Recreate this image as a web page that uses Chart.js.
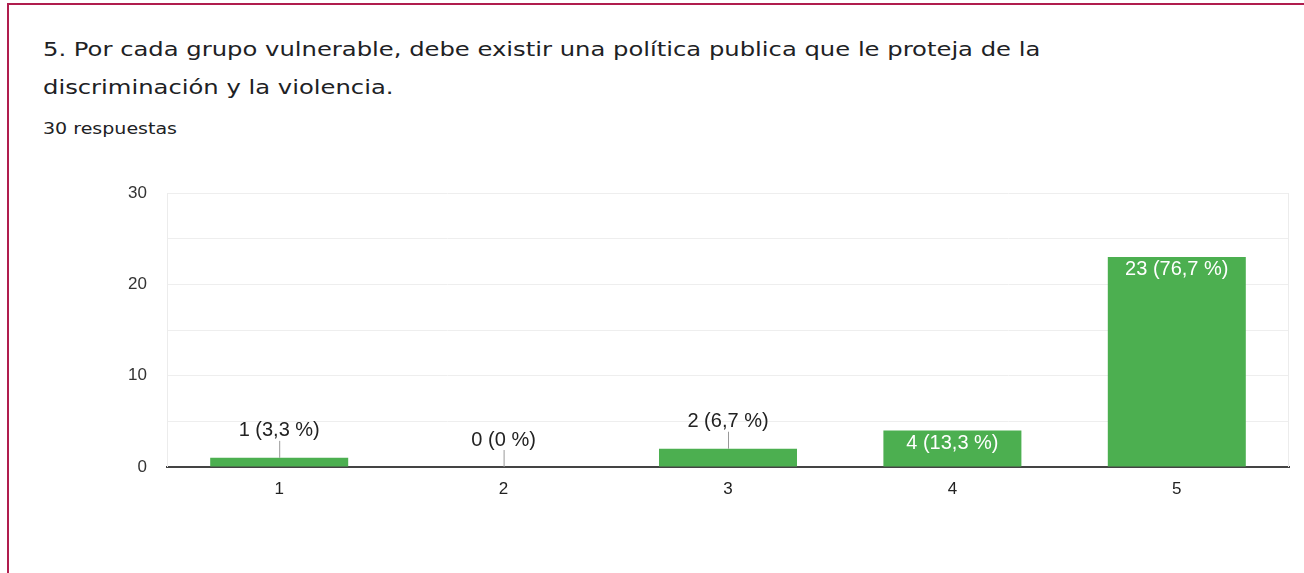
<!DOCTYPE html>
<html lang="es">
<head>
    <meta charset="UTF-8">
    <title>Grupo vulnerable - política pública</title>
    <script src="https://cdn.jsdelivr.net/npm/chart.js"></script>
    <style>
        html, body { margin: 0; padding: 0; background: #fff; }
        .frame {
            position: absolute; left: 7px; top: 3px; width: 1310px; height: 600px;
            border-left: 2px solid #b01d4e; border-top: 2px solid #b01d4e;
        }
        .titulo {
            position: absolute; left: 43px; top: 30px; margin: 0;
            font-family: "DejaVu Sans", sans-serif; font-size: 20px; font-weight: normal;
            line-height: 38px; color: #202124; white-space: nowrap;
            transform-origin: 0 0;
        }
        .respuestas {
            position: absolute; left: 43px; top: 120px; white-space: nowrap;
            font-family: "DejaVu Sans", sans-serif; font-size: 15px; color: #202124;
            transform-origin: 0 0;
        }
        #grafico { position: absolute; left: 0; top: 0; }
    </style>
</head>
<body>
    <div class="frame"></div>
    <h1 class="titulo"><span id="linea1">5. Por cada grupo vulnerable, debe existir una política publica que le proteja de la</span><br>discriminación y la violencia.</h1>
    <div class="respuestas"><span id="resp">30 respuestas</span></div>
    <canvas id="grafico" width="1304" height="573"></canvas>

    <script>
        const categorias = ['1', '2', '3', '4', '5'];
        const respuestas = [1, 0, 2, 4, 23];
        const etiquetas = ['1 (3,3 %)', '0 (0 %)', '2 (6,7 %)', '4 (13,3 %)', '23 (76,7 %)'];
        const ticksY = [0, 10, 20, 30];

        const fuente = '"Liberation Sans", Arial, sans-serif';

        // el texto del original está estirado en horizontal: escalar al ancho medido
        function ajustarAncho(el, ancho) {
            const w = el.getBoundingClientRect().width;
            el.parentElement.style.transform = 'scaleX(' + (ancho / w).toFixed(3) + ')';
        }
        ajustarAncho(document.getElementById('linea1'), 997);
        ajustarAncho(document.getElementById('resp'), 134);

        // etiquetas de datos: dentro de la barra si cabe, si no encima con un trazo
        const etiquetasPlugin = {
            id: 'etiquetas',
            afterDatasetsDraw(chart) {
                const ctx = chart.ctx;
                const barras = chart.getDatasetMeta(0).data;
                ctx.save();
                ctx.font = '20px ' + fuente;
                ctx.textAlign = 'center';
                ctx.textBaseline = 'middle';
                barras.forEach((b, i) => {
                    const alto = b.base - b.y;
                    if (alto > 28) {
                        ctx.fillStyle = '#ffffff';
                        ctx.fillText(etiquetas[i], b.x, b.y + 13);
                    } else {
                        ctx.strokeStyle = '#999999';
                        ctx.lineWidth = 1;
                        ctx.beginPath();
                        ctx.moveTo(b.x + 0.5, b.y);
                        ctx.lineTo(b.x + 0.5, b.y - 17);
                        ctx.stroke();
                        ctx.fillStyle = '#222222';
                        ctx.fillText(etiquetas[i], b.x, b.y - 27);
                    }
                });
                ctx.restore();
            }
        };

        // bordes laterales del área del gráfico
        const bordePlugin = {
            id: 'borde',
            beforeDatasetsDraw(chart) {
                const a = chart.chartArea, ctx = chart.ctx;
                ctx.save();
                ctx.strokeStyle = '#ececec';
                ctx.lineWidth = 1;
                ctx.beginPath();
                ctx.moveTo(a.left + 0.5, a.top);
                ctx.lineTo(a.left + 0.5, a.bottom);
                ctx.moveTo(a.right - 0.5, a.top);
                ctx.lineTo(a.right - 0.5, a.bottom);
                ctx.stroke();
                ctx.restore();
            }
        };

        new Chart(document.getElementById('grafico'), {
            type: 'bar',
            data: {
                labels: categorias,
                datasets: [{
                    data: respuestas,
                    backgroundColor: '#4caf50',
                    categoryPercentage: 1,
                    barPercentage: 0.615
                }]
            },
            options: {
                responsive: false,
                animation: false,
                layout: { padding: { left: 100, top: 193, right: 15, bottom: 0 } },
                plugins: { legend: { display: false }, tooltip: { enabled: false } },
                scales: {
                    x: {
                        grid: { display: false, drawTicks: false },
                        border: { color: '#444444', width: 2 },
                        ticks: { color: '#222222', font: { family: fuente, size: 17 }, padding: 12 },
                        afterFit(s) { s.height = 106; }
                    },
                    y: {
                        min: 0, max: 30,
                        afterBuildTicks(s) {
                            s.ticks = [0, 5, 10, 15, 20, 25, 30].map(v => ({ value: v }));
                        },
                        grid: { color: '#eeeeee', drawTicks: false },
                        border: { display: false },
                        ticks: {
                            color: '#333333', font: { family: fuente, size: 17 }, padding: 20,
                            callback: v => ticksY.includes(v) ? String(v) : ''
                        },
                        afterFit(s) { s.width = 67; }
                    }
                }
            },
            plugins: [bordePlugin, etiquetasPlugin]
        });
    </script>
</body>
</html>
